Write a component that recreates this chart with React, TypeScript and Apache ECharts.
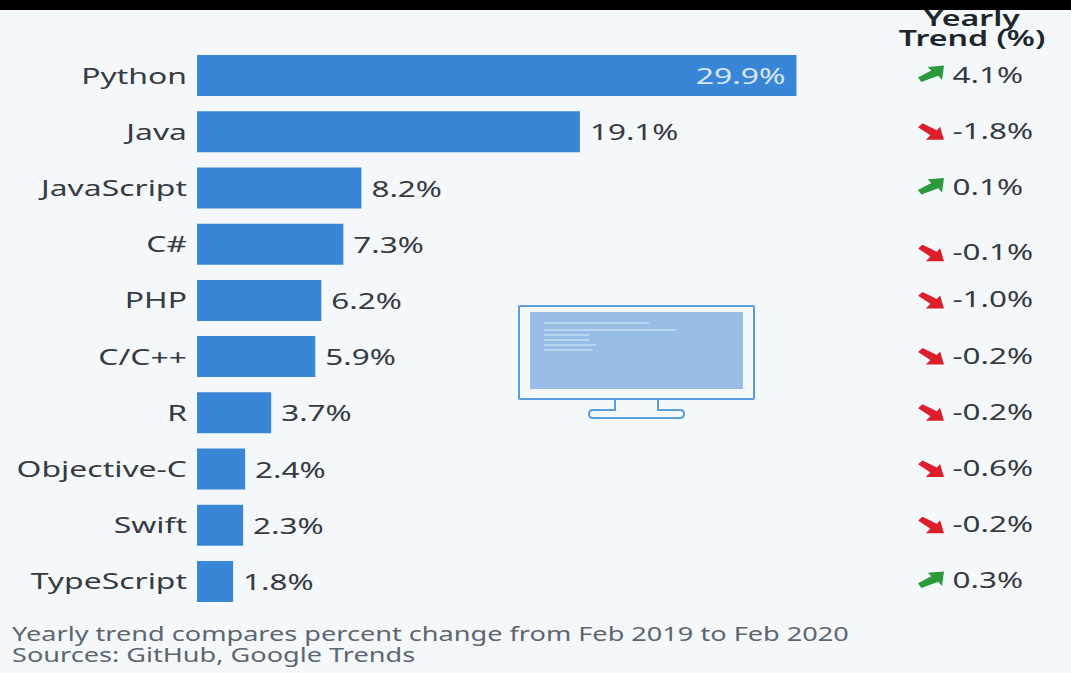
import React, { useEffect, useRef } from "react";
import * as echarts from "echarts";

const languages = ["Python", "Java", "JavaScript", "C#", "PHP", "C/C++", "R", "Objective-C", "Swift", "TypeScript"];
const shares = [29.9, 19.1, 8.2, 7.3, 6.2, 5.9, 3.7, 2.4, 2.3, 1.8];
const trends = [4.1, -1.8, 0.1, -0.1, -1.0, -0.2, -0.2, -0.6, -0.2, 0.3];
const headerLines = ["Yearly", "Trend (%)"];
const footnotes = [
  "Yearly trend compares percent change from Feb 2019 to Feb 2020",
  "Sources: GitHub, Google Trends",
];

const FONT = "'Noto Sans', sans-serif";
const STRETCH = 1.43;
const INK = "#363b42";
const BAR = "#3a86d6";
const UP = "#2a9a3a";
const DOWN = "#dc1f2b";
const UP_ARROW = "M0 36 L40 15 L29 4 L78 0 L72 44 L61 31 L10 50 Z";
const DOWN_ARROW = "M0 11 L14 0 L58 20 L68 10 L80 47 L24 47 L38 34 Z";
const STAND = "M615 399 V410 H593 Q589 410 589 414 Q589 418 593 418 H680 Q684 418 684 414 Q684 410 680 410 H658 V399";

echarts.graphic.registerShape("monitorStand", echarts.graphic.extendPath(STAND, {}) as any);

const stretchedText = (
  text: string,
  x: number,
  y: number,
  size: number,
  fill: string,
  align = "left",
  scaleX = STRETCH,
  fontWeight: number | string = "normal"
) => ({
  type: "text",
  x,
  y,
  scaleX,
  style: { text, fontFamily: FONT, fontSize: size, fontWeight, fill, align, verticalAlign: "middle" },
});

export default function App() {
  const ref = useRef<HTMLDivElement>(null);

  useEffect(() => {
    document.body.style.margin = "0";
    const chart = echarts.init(ref.current!, undefined, { renderer: "svg" });
    chart.setOption({
      animation: false,
      backgroundColor: "#f4f8fb",
      grid: { left: 197, top: 47.5, width: 802, height: 562 },
      xAxis: { type: "value", min: 0, max: 40, show: false },
      yAxis: { type: "category", data: languages, inverse: true, show: false },
      series: [
        {
          type: "bar",
          data: shares,
          barWidth: 41,
          itemStyle: { color: BAR },
          silent: true,
          z: 2,
        },
        {
          // Language names to the left of the bars, share labels beside their ends
          type: "custom",
          data: shares.map((v, i) => [v, i]),
          silent: true,
          z: 5,
          clip: false,
          renderItem: (_: any, api: any) => {
            const value = api.value(0);
            const i = api.value(1);
            const [xEnd, y] = api.coord([value, i]);
            const [x0] = api.coord([0, i]);
            const inside = value > 25;
            return {
              type: "group",
              children: [
                stretchedText(languages[i], x0 - 10, y - 0.5, 22, INK, "right", 1.45),
                stretchedText(
                  `${value.toFixed(1)}%`,
                  inside ? xEnd - 11 : xEnd + 10,
                  y,
                  22,
                  inside ? "#d6e6f7" : INK,
                  inside ? "right" : "left",
                  inside ? 1.45 : STRETCH
                ),
              ],
            };
          },
        },
        {
          // Yearly trend column: arrow plus signed change
          type: "custom",
          data: trends.map((v, i) => [v, i]),
          silent: true,
          z: 5,
          clip: false,
          renderItem: (_: any, api: any) => {
            const value = api.value(0);
            const i = api.value(1);
            const y = api.coord([0, i])[1] - 1.5 + (languages[i] === "C#" ? 9 : 0);
            const up = value > 0;
            return {
              type: "group",
              children: [
                {
                  type: "path",
                  shape: {
                    pathData: up ? UP_ARROW : DOWN_ARROW,
                    layout: "cover",
                    x: 918,
                    y: y - (up ? 8.5 : 7),
                    width: 26,
                    height: 16.5,
                  },
                  style: { fill: up ? UP : DOWN },
                },
                stretchedText(`${value.toFixed(1)}%`, 952.5, y, 22, INK),
              ],
            };
          },
        },
      ],
      graphic: [
        ...headerLines.map((line, i) =>
          stretchedText(line, 972, 17.5 + i * 20, 22, "#20252c", "center", 1.46, 600)
        ),
        ...footnotes.map((line, i) => stretchedText(line, 12, 634 + i * 21, 19.5, "#5c6670", "left", 1.39)),
        // Monitor illustration
        {
          type: "group",
          silent: true,
          children: [
            { type: "rect", shape: { x: 519, y: 306, width: 235, height: 93, r: 1 }, style: { fill: "none", stroke: "#5b9be0", lineWidth: 2 } },
            { type: "rect", shape: { x: 530, y: 312, width: 213, height: 77 }, style: { fill: "#98bee8" } },
            { type: "monitorStand", x: 0, y: 0, style: { fill: "none", stroke: "#5b9be0", lineWidth: 2 } },
            ...[[544, 649, 323], [544, 676, 330], [544, 589, 335], [544, 589, 340], [544, 596, 345], [544, 592, 350]].map(([x1, x2, y]) => ({
              type: "line",
              shape: { x1, y1: y, x2, y2: y },
              style: { stroke: "#c8dcf3", lineWidth: 1.5 },
            })),
          ],
        },
        // Dark band along the top edge
        { type: "rect", shape: { x: 0, y: 0, width: 1071, height: 10 }, style: { fill: "#000" } },
      ],
    });
    return () => chart.dispose();
  }, []);

  return <div ref={ref} style={{ width: 1071, height: 673 }} />;
}
